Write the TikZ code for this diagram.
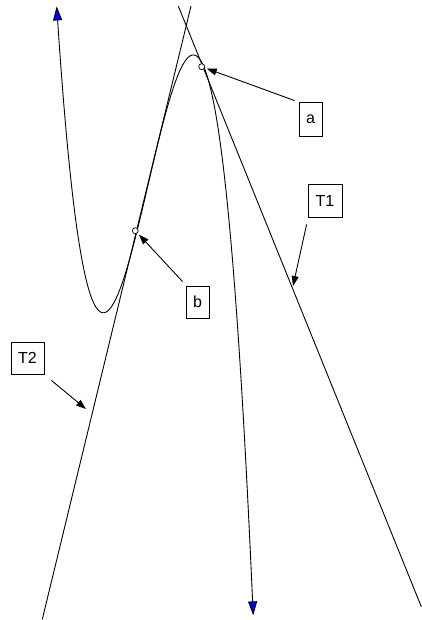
\documentclass[tikz,border=0pt]{standalone}
\usepackage{fontspec}
\setmainfont{Liberation Sans}
\usetikzlibrary{arrows.meta}
\begin{document}
\begin{tikzpicture}[x=1pt,y=-1pt,
  thinline/.style={line width=0.9pt,black},
  labelbox/.style={draw,line width=0.8pt,inner sep=0pt,font=\fontsize{16}{19}\selectfont},
  touch/.style={circle,draw,fill=white,line width=0.7pt,inner sep=0pt,minimum size=6pt},
  pointer/.style={thinline,-{Triangle[length=10pt,width=7pt]}},
  bigtip/.style={{Triangle[length=14pt,width=9pt,fill=blue]}-{Triangle[length=14pt,width=9pt,fill=blue]}}
]
\useasboundingbox (0,0) rectangle (422,620);
% tangent lines
\coordinate (t1top) at (178.3,6);
\coordinate (t1bot) at (421.3,606.7);
\coordinate (t2top) at (191,6);
\coordinate (t2bot) at (42.3,619.3);
\draw[thinline] (t1top) -- (t1bot);
\draw[thinline] (t2top) -- (t2bot);
% cubic curve
\draw[thinline,bigtip] plot[domain=-2.08:2.408,samples=240,smooth,variable=\t]
  ({148.3+45.29*\t-0.29*\t*\t*\t},{183.85-193.3*\t+64.4*\t*\t*\t});
% touch points
\node[touch] (pa) at (201.7,66.7) {};
\node[touch] (pb) at (135.3,230.7) {};
% label boxes
\node[labelbox,minimum width=23pt,minimum height=34pt] (boxa) at (310.5,119) {a};
\node[labelbox,minimum width=23pt,minimum height=32pt] (boxb) at (197.5,302) {b};
\node[labelbox,minimum width=34pt,minimum height=33pt] (boxt1) at (325,200.5) {T1};
\node[labelbox,minimum width=33pt,minimum height=32pt] (boxt2) at (27.5,358) {T2};
% pointer ends on lines
\coordinate (e1) at (293,286);
\coordinate (e2) at (86,409);
% pointers
\draw[pointer,shorten >=2pt] ([shift={(-4,-1)}]boxa.north west) -- (pa);
\draw[pointer,shorten >=2pt] ([shift={(-3,-4)}]boxb.north west) -- (pb);
\draw[pointer] ([shift={(-1,7)}]boxt1.south west) -- (e1);
\draw[pointer] ([shift={(7,6)}]boxt2.south east) -- (e2);
\end{tikzpicture}
\end{document}
